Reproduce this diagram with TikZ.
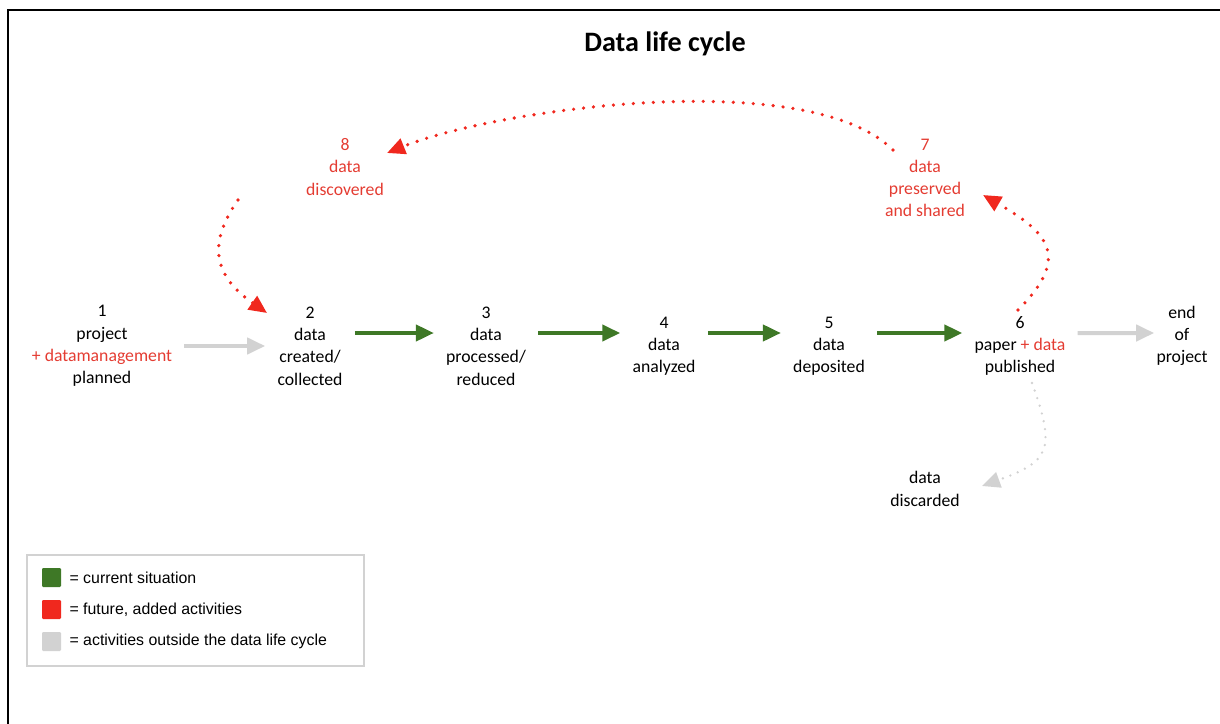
\documentclass[tikz,border=0pt]{standalone}
\usepackage{fontspec}
\setmainfont{Carlito}
\newfontfamily\legendfont{Liberation Sans}
\usetikzlibrary{arrows.meta, positioning, calc}
\definecolor{lcgreen}{RGB}{62,120,38}
\definecolor{lcred}{RGB}{240,40,30}
\definecolor{lctext}{RGB}{228,60,50}
\definecolor{lcgray}{RGB}{210,210,210}

\begin{document}
\begin{tikzpicture}
  [x=0.25mm, y=0.25mm,
  % phase
  phase/.style = {align=center,
    inner xsep=3mm, inner ysep=1mm,
    font=\fontsize{12.6pt}{15.8pt}\selectfont,
    on grid},
  % flow
  flow/.style = {draw=lcgreen, line width=1mm,
    -{Triangle[length=4.5mm, width=4mm]}},
  grayflow/.style = {flow, draw=lcgray, fill=lcgray},
  % loop
  redloop/.style = {draw=lcred, line width=0.9mm, line cap=round,
    dash pattern=on 0pt off 2.5mm,
    -{Triangle[length=4.5mm, width=4mm]}},
  grayloop/.style = {redloop, draw=lcgray, line width=0.65mm,
    dash pattern=on 0pt off 2mm},
  % legend
  key/.style = {minimum size=4.75mm, inner sep=0, rounded corners=0.3mm},
  keytext/.style = {font=\legendfont\fontsize{11.3pt}{13pt}\selectfont,
    inner sep=0.7mm},
  ]

  \useasboundingbox (0,0) rectangle (1220,-724);
  \draw [line width=0.6mm] (8,-724) -- (8,-10) -- (1220,-10);

  \node [font=\fontsize{20pt}{24pt}\selectfont\bfseries] (title) at (665,-44) {Data life cycle};

  % nodes
  \node [phase] (plan) at (102,-346) {1\\project\\{\color{lctext}+ datamanagement}\\planned};
  \node [phase, right=52mm of plan] (create) {2\\data\\created/\\collected};
  \node [phase, right=44mm of create] (process) {3\\data\\processed/\\reduced};
  \node [phase, right=44.5mm of process] (analyze) {4\\data\\analyzed};
  \node [phase, right=41.25mm of analyze] (deposit) {5\\data\\deposited};
  \node [phase, right=47.75mm of deposit] (publish) {6\\paper {\color{lctext}+ data}\\published};
  \node [phase, right=40.5mm of publish, yshift=2.5mm, inner xsep=0.5mm] (endp) {end\\of\\project};
  \node [phase, text=lctext] (discover) at (345,-167) {8\\data\\discovered};
  \node [phase, text=lctext] (preserve) at (925,-178) {7\\data\\preserved\\and shared};
  \node [phase] (discard) at (925,-489) {data\\discarded};

  % path
  \path [grayflow] (plan) -- (create);
  \path [flow] ([yshift=3.25mm]create.east) -- ([yshift=3.25mm]process.west);
  \path [flow] ([yshift=3.25mm]process.east) -- ([yshift=3.25mm]analyze.west);
  \path [flow] ([yshift=3.25mm]analyze.east) -- ([yshift=3.25mm]deposit.west);
  \path [flow] ([yshift=3.25mm]deposit.east) -- ([yshift=3.25mm]publish.west);
  \path [grayflow] ([yshift=3.25mm]publish.east) -- ([yshift=0.75mm]endp.west);

  \path [redloop] ([shift={(-32,28)}]preserve.center) to [out=135, in=22, looseness=0.6] ([shift={(42,14)}]discover.center);
  \path [redloop] ([shift={(-107,-33)}]discover.center) to [out=235, in=145, looseness=1.3] ([shift={(-43,33)}]create.center);
  \path [redloop] ([shift={(-2,36)}]publish.center) to [out=45, in=-30, looseness=1.6] ([shift={(58,-17)}]preserve.center);
  \path [grayloop] ([shift={(12,-37)}]publish.center) to [out=-70, in=20, looseness=1.6] ([shift={(57,3)}]discard.center);

  % legend
  \draw [draw=lcgray, line width=0.4mm] (27,-555) rectangle (364,-666);
  \node [key, fill=lcgreen] (kgreen) at (51.5,-577.5) {};
  \node [key, fill=lcred] (kred) at (51.5,-609.5) {};
  \node [key, fill=lcgray] (kgray) at (51.5,-641.5) {};
  \node [keytext, right=1.3mm of kgreen] (lgreen) {= current situation};
  \node [keytext, right=1.3mm of kred] (lred) {= future, added activities};
  \node [keytext, right=1.3mm of kgray] (lgray) {= activities outside the data life cycle};

\end{tikzpicture}
\end{document}
